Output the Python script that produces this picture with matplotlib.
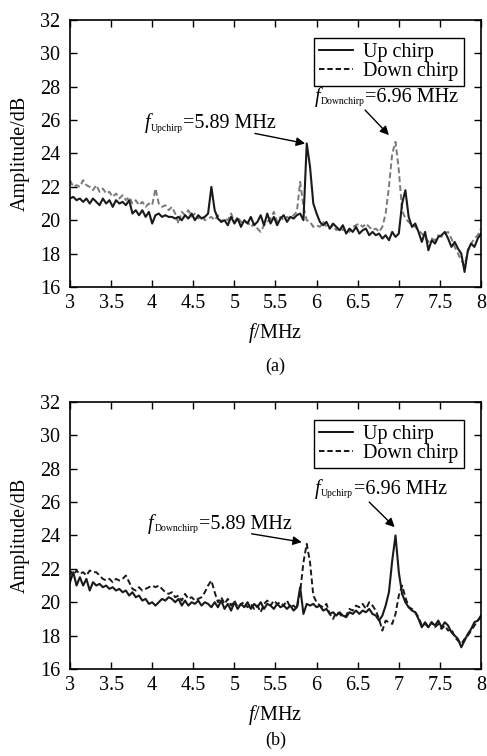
import numpy as np
import matplotlib
matplotlib.use("Agg")
import matplotlib.pyplot as plt
from matplotlib.lines import Line2D
from matplotlib.transforms import IdentityTransform

plt.rcParams['font.family'] = ['Liberation Serif', 'DejaVu Serif']
plt.rcParams['mathtext.fontset'] = 'custom'
plt.rcParams['mathtext.rm'] = 'Liberation Serif'
plt.rcParams['mathtext.it'] = 'Liberation Serif:italic'

# frequency axis (MHz), sampled every 0.04 MHz
freq = np.linspace(3.0, 8.0, 126)

a_up = [21.3, 21.4, 21.2, 21.3, 21.1, 21.3, 21.0, 21.3, 21.1, 20.9,
        21.3, 21.0, 21.2, 20.8, 21.2, 21.0, 21.1, 20.9, 21.2, 20.4,
        20.6, 20.3, 20.6, 20.2, 20.5, 19.8, 20.3, 20.4, 20.2, 20.3,
        20.2, 20.2, 20.1, 20.2, 20.0, 20.3, 20.1, 20.4, 20.0, 20.3,
        20.1, 20.2, 20.4, 22.0, 20.6, 20.1, 19.9, 20.0, 19.7, 20.2,
        19.8, 20.1, 19.6, 20.0, 19.8, 20.2, 19.7, 19.9, 20.3, 19.7,
        20.4, 19.8, 20.2, 19.7, 20.1, 20.3, 19.9, 20.2, 20.1, 20.3,
        20.4, 20.0, 24.6, 23.2, 21.0, 20.4, 19.9, 19.7, 19.9, 19.5,
        19.8, 19.6, 19.4, 19.7, 19.2, 19.5, 19.3, 19.6, 19.2, 19.4,
        19.5, 19.1, 19.3, 19.1, 19.2, 18.9, 19.1, 18.8, 19.3, 19.0,
        19.2, 21.0, 21.8, 20.2, 19.6, 19.8, 19.3, 18.7, 19.3, 18.2,
        18.8, 18.6, 19.0, 19.1, 19.3, 18.9, 18.4, 18.7, 18.3, 18.0,
        16.9, 18.2, 18.6, 18.4, 18.9, 19.2]

a_down = [22.4, 22.0, 22.1, 22.0, 22.4, 22.1, 22.0, 21.8, 22.1, 21.7,
          21.9, 21.6, 21.7, 21.4, 21.6, 21.3, 21.5, 21.2, 21.4, 21.0,
          21.2, 20.9, 21.1, 20.8, 21.0, 20.9, 21.9, 21.0, 20.8, 20.9,
          20.6, 20.8, 20.4, 19.8, 20.5, 20.3, 20.6, 20.2, 20.4, 20.1,
          20.3, 20.0, 20.1, 20.2, 20.0, 20.3, 19.9, 20.1, 20.0, 20.4,
          19.9, 20.2, 19.9, 19.8, 19.9, 19.6, 19.8, 19.5, 19.3, 19.7,
          19.9, 20.1, 20.5, 19.9, 20.2, 20.0, 20.2, 20.1, 20.3, 20.5,
          22.3, 20.8, 20.0, 19.9, 19.6, 19.7, 19.6, 19.9, 19.6, 19.5,
          19.7, 19.4, 19.6, 19.4, 19.5, 19.3, 19.6, 19.7, 19.8, 19.6,
          19.8, 19.6, 19.4, 19.5, 19.3, 19.6, 20.4, 22.0, 24.0, 24.7,
          23.0, 20.6, 20.1, 19.9, 19.7, 19.6, 19.4, 19.2, 19.0, 18.7,
          18.9, 18.8, 19.1, 19.0, 19.2, 19.3, 18.9, 18.4, 18.0, 17.6,
          17.3, 18.1, 18.6, 18.9, 19.1, 19.5]

b_up = [21.2, 21.8, 21.0, 21.5, 21.0, 21.4, 20.7, 21.2, 21.0, 21.1,
        20.9, 21.0, 20.8, 20.9, 20.7, 20.8, 20.6, 20.7, 20.4, 20.6,
        20.3, 20.4, 20.1, 20.2, 19.9, 20.0, 19.8, 20.0, 20.2, 20.1,
        20.3, 20.2, 20.0, 20.2, 19.8, 20.1, 19.8, 20.0, 19.9, 20.1,
        19.8, 20.0, 19.9, 19.7, 20.0, 19.7, 20.1, 19.6, 19.9, 19.5,
        20.0, 19.6, 19.9, 19.7, 20.0, 19.6, 19.9, 19.7, 20.0, 19.6,
        19.9, 19.8, 19.6, 19.9, 19.7, 19.8, 19.6, 19.8, 19.5, 19.7,
        20.9, 19.3, 19.9, 19.8, 19.9, 19.7, 19.8, 19.5, 19.6, 19.3,
        19.4, 19.2, 19.4, 19.2, 19.1, 19.4, 19.3, 19.5, 19.3, 19.5,
        19.4, 19.6, 19.3, 19.2, 18.9, 19.2, 19.8, 20.6, 22.5, 24.0,
        21.8, 20.5, 20.0, 19.7, 19.5, 19.4, 19.0, 18.5, 18.8, 18.5,
        18.8, 18.6, 18.9, 18.5, 18.8, 18.6, 18.2, 18.0, 17.8, 17.3,
        17.7, 18.1, 18.4, 18.8, 18.9, 19.2]

b_down = [21.9, 21.6, 21.9, 21.7, 21.8, 21.6, 21.9, 21.8, 21.8, 21.6,
          21.4, 21.3, 21.4, 21.2, 21.4, 21.3, 21.4, 21.6, 21.2, 20.8,
          20.7, 20.9, 20.7, 20.8, 20.9, 21.0, 20.9, 21.0, 20.8, 20.6,
          20.5, 20.6, 20.3, 20.4, 20.1, 20.5, 20.2, 20.3, 20.1, 20.2,
          20.3, 20.6, 21.0, 21.3, 20.6, 20.0, 20.3, 19.9, 20.2, 19.8,
          20.1, 19.7, 19.9, 20.0, 19.7, 19.9, 19.6, 19.8, 19.4, 19.9,
          20.1, 19.8, 20.1, 19.9, 20.0, 19.8, 20.1, 19.7, 19.8, 19.6,
          20.6, 22.4, 23.5, 22.4, 20.4, 20.0, 19.8, 19.7, 19.9, 19.3,
          19.0, 19.4, 19.3, 19.1, 19.2, 19.6, 19.5, 19.8, 19.7, 19.9,
          19.6, 20.0, 19.8, 19.5, 19.0, 18.3, 18.9, 18.8, 18.7, 19.3,
          20.4, 21.0, 20.3, 19.7, 19.6, 19.4, 19.1, 18.6, 18.7, 18.5,
          18.8, 18.5, 18.7, 18.4, 18.6, 18.3, 18.4, 17.9, 17.7, 17.5,
          17.8, 18.0, 18.3, 18.6, 18.9, 19.1]

xticks = [3, 3.5, 4, 4.5, 5, 5.5, 6, 6.5, 7, 7.5, 8]
xticklabels = ['3', '3.5', '4', '4.5', '5', '5.5', '6', '6.5', '7', '7.5', '8']
yticks = [16, 18, 20, 22, 24, 26, 28, 30, 32]

fig = plt.figure(figsize=(4.87, 7.56), dpi=100)
ax1 = fig.add_axes([0.1437, 0.6204, 0.8440, 0.3532])
ax2 = fig.add_axes([0.1437, 0.1151, 0.8440, 0.3532])

FS = 14.5
dash = (3.0, 1.6)

def style(ax):
    ax.set_xlim(3, 8)
    ax.set_ylim(16, 32)
    ax.set_xticks(xticks)
    ax.set_xticklabels(xticklabels)
    ax.set_yticks(yticks)
    ax.tick_params(direction='in', top=True, right=True, length=5, width=1.0,
                   labelsize=FS, pad=5)
    ax.tick_params(axis='y', pad=7)
    for s in ax.spines.values():
        s.set_linewidth(1.2)
    ax.set_xlabel(r'$f$/MHz', fontsize=FS, labelpad=6)
    ax.set_ylabel('Amplitude/dB', fontsize=FS, labelpad=7)
    handles = [Line2D([], [], color='black', lw=1.3),
               Line2D([], [], color='black', lw=1.3, ls=(0, dash))]
    leg = ax.legend(handles, ['Up chirp', 'Down chirp'], loc='upper right',
                    bbox_to_anchor=(0.958, 0.933), fontsize=FS, frameon=True,
                    fancybox=False, edgecolor='black', framealpha=1,
                    handlelength=1.7, handletextpad=0.5, labelspacing=0.0,
                    borderpad=0.25, borderaxespad=0.0)
    leg.get_frame().set_linewidth(1.0)

renderer = fig.canvas.get_renderer()

def peak_label(ax, x, y, sub, rest):
    # italic f, small subscript, then the value text, placed left to right
    t1 = ax.text(x, y, 'f', fontsize=FS, style='italic', va='baseline', ha='left')
    bb = t1.get_window_extent(renderer)
    xd, yd = ax.transData.transform((x, y))
    t2 = fig.text(0, 0, sub, fontsize=7.0, va='baseline', ha='left',
                  transform=IdentityTransform())
    t2.set_position((bb.x1 + 0.5, yd - 2.5))
    bb2 = t2.get_window_extent(renderer)
    t3 = fig.text(0, 0, '=' + rest, fontsize=FS, va='baseline', ha='left',
                  transform=IdentityTransform())
    t3.set_position((bb2.x1 + 0.5, yd))

arrow = dict(arrowstyle='-|>', color='black', lw=1.0, mutation_scale=13,
             shrinkA=0, shrinkB=0)

# panel (a)
ax1.plot(freq, a_down, color='#7a7a7a', lw=1.4, ls=(0, dash))
ax1.plot(freq, a_up, color='#1a1a1a', lw=1.5)
style(ax1)
peak_label(ax1, 3.91, 25.5, 'Upchirp', '5.89 MHz')
ax1.annotate('', xy=(5.86, 24.6), xytext=(5.25, 25.2), arrowprops=arrow)
peak_label(ax1, 5.98, 27.1, 'Downchirp', '6.96 MHz')
ax1.annotate('', xy=(6.88, 25.1), xytext=(6.59, 26.6), arrowprops=arrow)
fig.text(0.5655, 1 - 366 / 756, '(a)', fontsize=13, ha='center', va='center')

# panel (b)
ax2.plot(freq, b_down, color='#1a1a1a', lw=1.4, ls=(0, dash))
ax2.plot(freq, b_up, color='#1a1a1a', lw=1.5)
style(ax2)
peak_label(ax2, 3.95, 24.4, 'Downchirp', '5.89 MHz')
ax2.annotate('', xy=(5.82, 23.6), xytext=(5.21, 24.1), arrowprops=arrow)
peak_label(ax2, 5.98, 26.5, 'Upchirp', '6.96 MHz')
ax2.annotate('', xy=(6.95, 24.5), xytext=(6.64, 26.0), arrowprops=arrow)
fig.text(0.5655, 1 - 740 / 756, '(b)', fontsize=13, ha='center', va='center')

fig.savefig('out.png', dpi=100)
